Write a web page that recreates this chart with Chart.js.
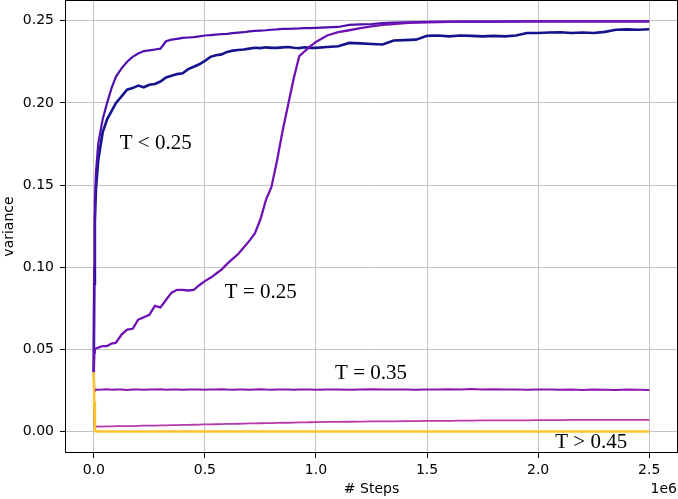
<!DOCTYPE html>
<html>
<head>
<meta charset="utf-8">
<script src="https://cdn.jsdelivr.net/npm/chart.js@4.4.1/dist/chart.umd.min.js"></script>
<style>
body { margin: 0; background: #fff; }
#wrap { width: 678px; height: 499px; }
</style>
</head>
<body>
<div id="wrap"><canvas id="graph"></canvas></div>
<script>
// steps, in units of 1e6
var stepsM = [0, 0.002, 0.005, 0.01, 0.02, 0.04, 0.06, 0.08, 0.1,
	0.125, 0.15, 0.175, 0.2, 0.225, 0.25, 0.275, 0.3, 0.325, 0.35, 0.375, 0.4, 0.425, 0.45, 0.475,
	0.5, 0.525, 0.55, 0.575, 0.6, 0.625, 0.65, 0.675, 0.7, 0.725, 0.75, 0.775, 0.8, 0.825, 0.85, 0.875, 0.9, 0.925, 0.95, 0.975, 1.0,
	1.05, 1.1, 1.15, 1.2, 1.25, 1.3, 1.35, 1.4, 1.45, 1.5, 1.55, 1.6, 1.65, 1.7, 1.75, 1.8, 1.85, 1.9, 1.95, 2.0,
	2.05, 2.1, 2.15, 2.2, 2.25, 2.3, 2.35, 2.4, 2.45, 2.5];

// T < 0.25, fast run
var fastT = [0.036, 0.100, 0.140, 0.158, 0.175, 0.190, 0.200, 0.209, 0.216,
	0.221, 0.225, 0.228, 0.230, 0.2315, 0.232, 0.2325, 0.233, 0.2375, 0.2385, 0.239, 0.2395, 0.2398, 0.240, 0.2405,
	0.241, 0.2412, 0.2415, 0.2418, 0.242, 0.2425, 0.2428, 0.243, 0.2435, 0.2438, 0.244, 0.2442, 0.2445, 0.2447, 0.245, 0.245, 0.2452, 0.2453, 0.2455, 0.2455, 0.2457,
	0.246, 0.2462, 0.2475, 0.2478, 0.248, 0.2485, 0.2488, 0.249, 0.2492, 0.2493, 0.2494, 0.2494, 0.2495, 0.2495, 0.2495,
	0.2495, 0.2496, 0.2496, 0.2496, 0.2496, 0.2496, 0.2496, 0.2496, 0.2496, 0.2496, 0.2496, 0.2496, 0.2496, 0.2496, 0.2496];

// T < 0.25, slow run
var slowT = [0.036, 0.090, 0.128, 0.148, 0.165, 0.182, 0.190, 0.195, 0.200,
	0.204, 0.208, 0.209, 0.2105, 0.2095, 0.211, 0.2115, 0.213, 0.2155, 0.2165, 0.2175, 0.218, 0.2205, 0.222, 0.2235,
	0.2255, 0.228, 0.229, 0.2295, 0.231, 0.2318, 0.2322, 0.2325, 0.233, 0.2335, 0.2333, 0.2338, 0.2335, 0.2335, 0.2338, 0.234, 0.2335, 0.2333, 0.2338, 0.2335, 0.2335,
	0.234, 0.2345, 0.2365, 0.2362, 0.2358, 0.2355, 0.238, 0.2382, 0.2385, 0.2408, 0.241, 0.2405, 0.241, 0.2408, 0.2405,
	0.2408, 0.2405, 0.241, 0.2425, 0.2425, 0.2428, 0.243, 0.2425, 0.2428, 0.2425, 0.2432, 0.2445, 0.2447, 0.2445, 0.2448];

// T = 0.25
var midT = [0.036, 0.048, 0.050, 0.0505, 0.051, 0.052, 0.052, 0.0535, 0.054,
	0.059, 0.062, 0.0625, 0.068, 0.0695, 0.071, 0.0765, 0.0755, 0.080, 0.0845, 0.0862, 0.0862, 0.0858, 0.0862, 0.089,
	0.0915, 0.0935, 0.096, 0.0985, 0.102, 0.105, 0.108, 0.112, 0.116, 0.1205, 0.129, 0.141, 0.149, 0.165, 0.183, 0.199, 0.215, 0.2285, 0.2315, 0.2345, 0.237,
	0.241, 0.243, 0.2442, 0.2455, 0.2465, 0.2475, 0.248, 0.2485, 0.2488, 0.249, 0.2492, 0.2493, 0.2494, 0.2494, 0.2495,
	0.2495, 0.2495, 0.2495, 0.2496, 0.2496, 0.2496, 0.2496, 0.2496, 0.2496, 0.2496, 0.2496, 0.2496, 0.2496, 0.2496, 0.2496];

// T = 0.35
var warmT = [0.036, 0.026, 0.0255, 0.0256, 0.0254, 0.0255, 0.0257, 0.0254, 0.0256,
	0.0255, 0.0253, 0.0256, 0.0255, 0.0254, 0.0256, 0.0255, 0.0257, 0.0254, 0.0255, 0.0256, 0.0254, 0.0255, 0.0256, 0.0255,
	0.0254, 0.0256, 0.0255, 0.0257, 0.0255, 0.0254, 0.0256, 0.0255, 0.0254, 0.0256, 0.0257, 0.0255, 0.0254, 0.0256, 0.0255, 0.0256, 0.0254, 0.0255, 0.0256, 0.0255, 0.0254,
	0.0256, 0.0255, 0.0254, 0.0256, 0.0257, 0.0255, 0.0256, 0.0255, 0.0254, 0.0256, 0.0255, 0.0257, 0.0256, 0.0258, 0.0256,
	0.0257, 0.0255, 0.0256, 0.0254, 0.0255, 0.0256, 0.0254, 0.0255, 0.0253, 0.0255, 0.0254, 0.0253, 0.0255, 0.0254, 0.0253];

// T = 0.45 (low, slowly rising)
var lowT = [0.036, 0.004, 0.0030, 0.0030, 0.0031, 0.0030, 0.0031, 0.0031, 0.0032,
	0.0032, 0.0033, 0.0033, 0.0034, 0.0035, 0.0035, 0.0036, 0.0037, 0.0037, 0.0038, 0.0039, 0.0040, 0.0040, 0.0041, 0.0042,
	0.0043, 0.0043, 0.0044, 0.0045, 0.0046, 0.0046, 0.0047, 0.0048, 0.0049, 0.0049, 0.0050, 0.0051, 0.0051, 0.0052, 0.0053, 0.0053, 0.0054, 0.0055, 0.0055, 0.0056, 0.0057,
	0.0058, 0.0058, 0.0059, 0.0060, 0.0061, 0.0061, 0.0062, 0.0063, 0.0063, 0.0064, 0.0065, 0.0065, 0.0066, 0.0066, 0.0067,
	0.0067, 0.0068, 0.0068, 0.0068, 0.0069, 0.0069, 0.0069, 0.0070, 0.0070, 0.0070, 0.0070, 0.0071, 0.0071, 0.0071, 0.0071];

// T > 0.45
var hotT = [0.036, 0.018, 0.0004, 0, 0, 0, 0, 0, 0,
	0, 0, 0, 0, 0, 0, 0, 0, 0, 0, 0, 0, 0, 0, 0,
	0, 0, 0, 0, 0, 0, 0, 0, 0, 0, 0, 0, 0, 0, 0, 0, 0, 0, 0, 0, 0,
	0, 0, 0, 0, 0, 0, 0, 0, 0, 0, 0, 0, 0, 0, 0,
	0, 0, 0, 0, 0, 0, 0, 0, 0, 0, 0, 0, 0, 0, 0];

var xTicks = [0, 0.5, 1.0, 1.5, 2.0, 2.5];
var yTicks = [0, 0.05, 0.10, 0.15, 0.20, 0.25];

var noteText = ['T < 0.25', 'T = 0.25', 'T = 0.35', 'T > 0.45'];
var noteX = [0.117, 0.59, 1.086, 2.077];
var noteY = [0.172, 0.081, 0.032, -0.0099];

function pts(arr) {
	return stepsM.map((x, i) => ({ x: x, y: arr[i] }));
}

const extras = {
	id: 'extras',
	afterDraw(chart) {
		const c = chart.ctx;
		const a = chart.chartArea;
		const xs = chart.scales.x;
		const ys = chart.scales.y;
		c.save();
		// frame
		c.strokeStyle = '#000';
		c.lineWidth = 1;
		c.strokeRect(a.left - 0.5, a.top - 0.5, a.right - a.left + 1, a.bottom - a.top + 1);
		// offset label
		c.fillStyle = '#000';
		c.font = '14px "DejaVu Sans"';
		c.textAlign = 'right';
		c.textBaseline = 'alphabetic';
		c.fillText('1e6', a.right, 493);
		// temperature notes
		c.font = '21px "Liberation Serif", "Times New Roman", serif';
		c.textAlign = 'left';
		noteText.forEach((t, i) => {
			c.fillText(t, xs.getPixelForValue(noteX[i]), ys.getPixelForValue(noteY[i]));
		});
		c.restore();
	}
};

Chart.defaults.font.family = '"DejaVu Sans"';
Chart.defaults.font.size = 14;
Chart.defaults.color = '#000';

const ctx = document.getElementById('graph').getContext('2d');

new Chart(ctx, {
	type: 'line',
	data: {
		datasets: [
			{ data: pts(hotT), borderColor: '#fcc42a', borderWidth: 2.5 },
			{ data: pts(lowT), borderColor: '#b83aa6', borderWidth: 1.8 },
			{ data: pts(warmT), borderColor: '#8c17ad', borderWidth: 2 },
			{ data: pts(midT), borderColor: '#7012b6', borderWidth: 2.3 },
			{ data: pts(fastT), borderColor: '#4f10b0', borderWidth: 2.2 },
			{ data: pts(slowT), borderColor: '#14128c', borderWidth: 2.6 }
		]
	},
	options: {
		animation: false,
		responsive: true,
		maintainAspectRatio: false,
		layout: { padding: { top: 1, right: 1, left: 0, bottom: 0 } },
		elements: {
			point: { radius: 0 },
			line: { tension: 0, fill: false }
		},
		scales: {
			x: {
				type: 'linear',
				min: -0.125,
				max: 2.625,
				afterBuildTicks: s => { s.ticks = xTicks.map(v => ({ value: v })); },
				afterFit: s => {
					s.height = 47;
					s.paddingLeft = 0;
					s.paddingRight = 0;
				},
				border: { display: false },
				grid: { color: '#c4c4c4', lineWidth: 1, tickColor: '#000', tickLength: 6 },
				ticks: {
					autoSkip: false,
					maxRotation: 0,
					padding: 4,
					callback: v => v.toFixed(1)
				},
				title: { display: true, text: '# Steps', padding: { top: 0, bottom: 1 } }
			},
			y: {
				type: 'linear',
				min: -0.0125,
				max: 0.262,
				afterBuildTicks: s => { s.ticks = yTicks.map(v => ({ value: v })); },
				afterFit: s => {
					s.width = 66;
					s.paddingTop = 0;
					s.paddingBottom = 0;
				},
				border: { display: false },
				grid: { color: '#c4c4c4', lineWidth: 1, tickColor: '#000', tickLength: 6 },
				ticks: {
					autoSkip: false,
					padding: 6,
					callback: v => v.toFixed(2)
				},
				title: { display: true, text: 'variance', padding: { top: 1, bottom: 0 } }
			}
		},
		plugins: {
			legend: { display: false },
			tooltip: { enabled: false }
		}
	},
	plugins: [extras]
});
</script>
</body>
</html>
